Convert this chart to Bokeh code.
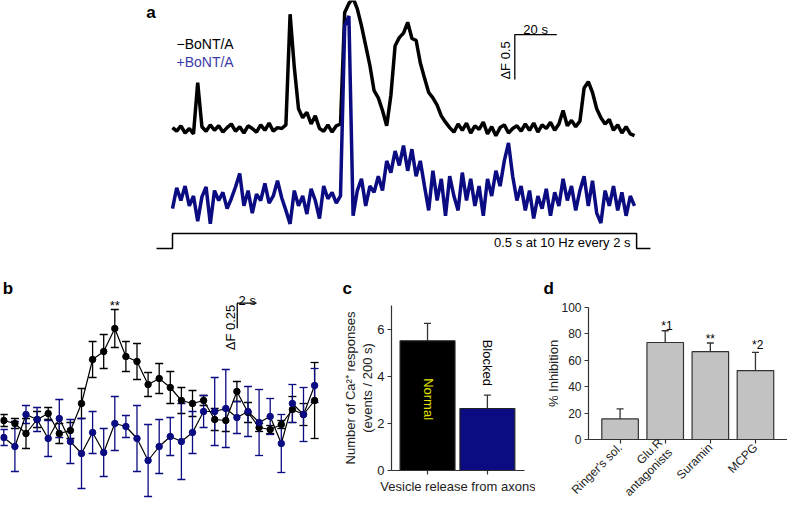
import math
from bokeh.plotting import figure
from bokeh.models import Range1d, Label, Whisker, TeeHead, ColumnDataSource, FixedTicker
from bokeh.embed import file_html
from bokeh.resources import INLINE

FONT = "Liberation Sans"
NAVY = "#0b0b82"
LEGEND_BLUE = "#3c3ca8"
AXIS_COL = "#333333"

# ---------------- Panel a : example traces (dF), one sample every 2 s ----------------
a_time = [2 * i for i in range(111)]
a_black = [0.01, -0.03, 0.03, -0.05, 0.00, -0.06, 0.51, 0.02, -0.03, 0.04,
           -0.02, 0.03, -0.04, 0.01, 0.05, -0.03, 0.02, -0.05, 0.03, 0.00,
           -0.04, 0.04, -0.02, 0.06, -0.03, 0.01, 0.00, 0.04, 1.27, 0.68,
           0.22, 0.12, 0.18, 0.05, 0.14, 0.00, -0.03, 0.04, -0.04, 0.03,
           0.05, 1.29, 1.39, 1.45, 1.33, 1.14, 0.92, 0.70, 0.42, 0.34,
           0.20, 0.03, 0.37, 0.92, 1.01, 1.06, 1.18, 1.00, 0.98, 0.73,
           0.56, 0.40, 0.34, 0.26, 0.14, 0.07, 0.01, -0.04, 0.05, -0.02,
           0.06, -0.05, 0.03, -0.01, 0.07, -0.06, 0.02, -0.08, 0.01, 0.04,
           -0.05, 0.00, 0.03, -0.03, 0.05, -0.02, 0.06, -0.04, 0.04, 0.00,
           0.07, -0.02, 0.05, 0.20, 0.03, 0.09, 0.02, 0.08, 0.45, 0.52,
           0.40, 0.22, 0.12, 0.05, 0.10, -0.02, 0.04, -0.05, 0.02, -0.06,
           -0.08]
a_blue = [-0.12, 0.11, -0.03, 0.13, -0.09, 0.02, -0.26, 0.01, 0.12, -0.29,
          0.08, -0.03, 0.06, -0.12, -0.01, 0.12, 0.27, -0.09, 0.08, -0.17,
          0.04, -0.03, 0.16, -0.06, 0.02, 0.19, 0.00, -0.14, -0.29, 0.08,
          -0.09, 0.02, -0.18, 0.10, -0.03, -0.23, 0.13, -0.01, 0.06, -0.06,
          0.02, 1.91, 2.02, -0.20, 0.08, 0.21, -0.09, 0.13, 0.06, 0.24,
          0.08, 0.41, 0.28, 0.52, 0.36, 0.58, 0.30, 0.54, 0.24, 0.41,
          0.13, -0.14, 0.30, -0.03, 0.21, -0.20, 0.24, 0.02, -0.14, 0.28,
          -0.03, 0.21, -0.09, 0.13, -0.20, 0.21, 0.02, 0.30, 0.13, 0.41,
          0.61, 0.24, -0.03, 0.13, -0.14, 0.08, -0.23, 0.02, -0.12, 0.10,
          -0.20, 0.06, -0.09, 0.21, -0.03, 0.13, -0.14, 0.08, 0.24, -0.09,
          0.19, -0.17, -0.28, 0.08, -0.09, 0.13, -0.14, 0.06, -0.20, 0.02,
          -0.09]
stim_time = [-7.6, 0, 0, 221, 221, 227.6]
stim_on = [0, 0, 1, 1, 0, 0]
a_legend = ["\u2212BoNT/A", "+BoNT/A"]
a_stim_text = "0.5 s at 10 Hz every 2 s"

# ---------------- Panel b : mean responses (dF) per frame ----------------
b_frame = list(range(1, 30))
b_black = [0.10, 0.07, -0.03, 0.11, 0.17, -0.03, 0.00, 0.27, 0.71, 0.79,
           1.02, 0.74, 0.69, 0.46, 0.52, 0.43, 0.30, 0.27, 0.30, 0.11,
           0.10, 0.39, 0.18, 0.03, 0.01, 0.06, 0.21, 0.16, 0.30]
b_black_err = [0.06, 0.05, 0.15, 0.08, 0.06, 0.10, 0.08, 0.15, 0.18, 0.17,
               0.19, 0.15, 0.18, 0.12, 0.15, 0.16, 0.13, 0.13, 0.05, 0.11,
               0.11, 0.10, 0.10, 0.04, 0.04, 0.04, 0.13, 0.11, 0.38]
b_blue = [-0.07, -0.16, 0.16, 0.11, -0.08, 0.12, -0.11, -0.23, -0.02, -0.22,
          0.07, 0.04, -0.08, -0.30, -0.16, -0.06, -0.11, -0.02, 0.19, 0.19,
          0.22, 0.13, 0.19, 0.08, 0.14, -0.13, 0.27, 0.16, 0.45]
b_blue_err = [0.08, 0.25, 0.09, 0.12, 0.18, 0.19, 0.22, 0.35, 0.21, 0.24,
              0.27, 0.11, 0.33, 0.36, 0.27, 0.19, 0.38, 0.21, 0.16, 0.34,
              0.39, 0.16, 0.25, 0.33, 0.18, 0.29, 0.19, 0.27, 0.17]

# ---------------- Panel c ----------------
c_cats = ["Normal", "Blocked"]
c_vals = [5.5, 2.63]
c_err = [0.74, 0.57]
c_ticks = [0, 2, 4, 6]

# ---------------- Panel d ----------------
d_cats = ["Ringer's sol.", "Glu.R\nantagonists", "Suramin", "MCPG"]
d_vals = [15.6, 73.5, 66.5, 52.2]
d_err = [7.6, 8.9, 6.6, 13.8]
d_sig = ["", "*1", "**", "*2"]
d_ticks = [0, 20, 40, 60, 80, 100]


def lab(p, x, y, text, size=13, color="black", angle=0.0, align="left",
        baseline="bottom", bold=False):
    p.add_layout(Label(x=x, y=y, text=text, text_font=FONT,
                       text_font_size=f"{size}px", text_color=color,
                       angle=angle, text_align=align, text_baseline=baseline,
                       text_font_style="bold" if bold else "normal"))


def bare(p):
    p.grid.visible = False
    p.outline_line_color = None
    p.background_fill_color = None
    p.border_fill_color = None


def place(p, left, top):
    p.styles = {"position": "absolute", "left": f"{left}px", "top": f"{top}px"}


# ================= Figure a =================
pa = figure(width=788, height=253, x_range=Range1d(-81.905, 293.333),
            y_range=Range1d(-1.389, 1.4222), output_backend="svg",
            toolbar_location=None, min_border=0,
            x_axis_location=None, y_axis_location=None)
bare(pa)
place(pa, 0, 0)
BLUE_OFFSET = -0.77
STIM_LOW, STIM_STEP = -1.333, 0.166
pa.line(a_time, a_black, line_width=3.5, color="black")
pa.line(a_time, [v + BLUE_OFFSET for v in a_blue], line_width=3.5, color=NAVY)
pa.line(stim_time, [STIM_LOW + s * STIM_STEP for s in stim_on],
        line_width=1.5, color="black")
SB_T, SB_V = 163.0, 1.044
pa.line([SB_T, SB_T, SB_T + 20], [SB_V - 0.5, SB_V, SB_V], line_width=1.3, color="black")
lab(pa, 172.9, 1.097, "20 s", align="center", baseline="alphabetic")
lab(pa, 158.7, 0.756, "\u0394F 0.5", angle=math.pi / 2, align="center", baseline="middle")
lab(pa, 1.9, 0.941, a_legend[0], size=14, baseline="middle")
lab(pa, 1.9, 0.744, a_legend[1], size=14, color=LEGEND_BLUE, baseline="middle")
lab(pa, 218.1, -1.267, a_stim_text, align="right", baseline="middle")
lab(pa, -10.24, 1.289, "a", size=17, align="center", baseline="middle", bold=True)

# ================= Figure b =================
pb = figure(width=335, height=259, x_range=Range1d(0.7027, 30.883),
            y_range=Range1d(-0.82, 1.77), output_backend="svg",
            toolbar_location=None, min_border=0,
            x_axis_location=None, y_axis_location=None)
bare(pb)
place(pb, 0, 253)
src_bk = ColumnDataSource(dict(x=b_frame,
                               lo=[v - e for v, e in zip(b_black, b_black_err)],
                               hi=[v + e for v, e in zip(b_black, b_black_err)]))
src_bl = ColumnDataSource(dict(x=b_frame,
                               lo=[v - e for v, e in zip(b_blue, b_blue_err)],
                               hi=[v + e for v, e in zip(b_blue, b_blue_err)]))
for src, col in ((src_bk, "black"), (src_bl, NAVY)):
    pb.add_layout(Whisker(base="x", upper="hi", lower="lo", source=src,
                          line_color=col, line_width=1.3,
                          upper_head=TeeHead(size=8, line_color=col, line_width=1.3),
                          lower_head=TeeHead(size=8, line_color=col, line_width=1.3)))
pb.line(b_frame, b_black, color="black", line_width=1.2)
pb.line(b_frame, b_blue, color="black", line_width=1.2)
pb.scatter(b_frame, b_black, size=6.5, fill_color="black", line_color="black")
pb.scatter(b_frame, b_blue, size=6.5, fill_color=NAVY, line_color=NAVY)
SBB_X, SBB_V = 22.03, 1.273
pb.line([SBB_X, SBB_X, SBB_X + 1.74], [SBB_V - 0.25, SBB_V, SBB_V], line_width=1.3, color="black")
lab(pb, 22.93, 1.30, "2 s", align="center", baseline="alphabetic")
lab(pb, 21.42, 1.03, "\u0394F 0.25", angle=math.pi / 2, align="center", baseline="middle")
lab(pb, 11.0, 1.255, "**", size=13, align="center", baseline="alphabetic")
lab(pb, 0.90, 1.425, "b", size=17, baseline="middle", bold=True)


def style_axes(p, size):
    for ax in (p.xaxis[0], p.yaxis[0]):
        ax.axis_line_color = AXIS_COL
        ax.axis_line_width = 1.2
        ax.major_tick_line_color = AXIS_COL
        ax.major_tick_line_width = 1.2
        ax.major_tick_out = 4
        ax.major_tick_in = 0
        ax.minor_tick_line_color = None
        ax.major_label_text_font = FONT
        ax.major_label_text_font_size = f"{size}px"
        ax.major_label_text_color = "#222222"
        ax.major_label_standoff = 3
        ax.axis_label_text_font = FONT
        ax.axis_label_text_font_style = "normal"
        ax.axis_label_text_color = "#222222"
        ax.axis_label_text_font_size = "13px"


def style_title(p, offset, standoff):
    p.title.align = "left"
    p.title.offset = offset
    p.title.standoff = standoff
    p.title.text_font = FONT
    p.title.text_font_size = "17px"
    p.title.text_font_style = "bold"
    p.title.text_color = "black"


# ================= Figure c =================
pc = figure(width=200, height=259, x_range=Range1d(0.398, 2.62), title="c",
            y_range=Range1d(0, 7), output_backend="svg", toolbar_location=None,
            min_border_left=56, min_border_right=11, min_border_top=52,
            min_border_bottom=42)
bare(pc)
place(pc, 335, 253)
style_axes(pc, 13)
style_title(pc, -49, 16)
pc.xaxis.ticker = FixedTicker(ticks=[], minor_ticks=[1, 2])
pc.xaxis.minor_tick_line_color = AXIS_COL
pc.xaxis.minor_tick_line_width = 1.2
pc.xaxis.minor_tick_out = 4
pc.xaxis.minor_tick_in = 0
pc.xaxis.axis_label = "Vesicle release from axons"
pc.xaxis.axis_label_standoff = 4
pc.yaxis.ticker = FixedTicker(ticks=c_ticks)
pc.yaxis.axis_label = "Number of Ca\u00b2\u207a responses\n(events / 200 s)"
pc.yaxis.axis_label_standoff = -1
pc.yaxis.axis_label_text_line_height = 1.15
c_x = [1, 2]
src_c = ColumnDataSource(dict(x=c_x, top=c_vals, hi=[v + e for v, e in zip(c_vals, c_err)],
                              color=["black", NAVY]))
pc.add_layout(Whisker(base="x", upper="hi", lower="top", source=src_c,
                      line_color=AXIS_COL, line_width=1.3,
                      upper_head=TeeHead(size=7, line_color=AXIS_COL, line_width=1.3),
                      lower_head=None))
pc.vbar(x="x", top="top", width=0.917, fill_color="color", line_color="#222222",
        line_width=1.2, source=src_c)
lab(pc, 1.01, 3.03, c_cats[0], color="#e6e600", angle=-math.pi / 2, align="center", baseline="middle")
lab(pc, 2.007, 4.57, c_cats[1], angle=-math.pi / 2, align="center", baseline="middle")

# ================= Figure d =================
pd = figure(width=252, height=259, x_range=Range1d(0.300, 4.71), title="d",
            y_range=Range1d(0, 100), output_backend="svg", toolbar_location=None,
            min_border_left=53, min_border_right=0, min_border_top=54,
            min_border_bottom=73)
bare(pd)
place(pd, 535, 253)
style_axes(pd, 12)
style_title(pd, -45, 20)
d_x = [1, 2, 3, 4]
pd.xaxis.ticker = FixedTicker(ticks=d_x)
pd.xaxis.major_label_overrides = {x: name for x, name in zip(d_x, d_cats)}
pd.xaxis.major_label_orientation = math.pi / 4
pd.xaxis.major_label_text_font_size = "12px"
pd.xaxis.major_label_text_line_height = 1.0
pd.xaxis.major_label_standoff = 2
pd.yaxis.ticker = FixedTicker(ticks=d_ticks)
pd.yaxis.axis_label = "% Inhibition"
pd.yaxis.axis_label_standoff = -3
src_d = ColumnDataSource(dict(x=d_x, top=d_vals, hi=[v + e for v, e in zip(d_vals, d_err)]))
pd.add_layout(Whisker(base="x", upper="hi", lower="top", source=src_d,
                      line_color=AXIS_COL, line_width=1.3,
                      upper_head=TeeHead(size=7, line_color=AXIS_COL, line_width=1.3),
                      lower_head=None))
pd.vbar(x="x", top="top", width=0.81, fill_color="#c2c2c2", line_color="#333333",
        line_width=1.2, source=src_d)
sig_pos = [(2.04, 86.2), (3.0, 76.3), (4.05, 71.8)]
for (sx, sy), s in zip(sig_pos, d_sig[1:]):
    lab(pd, sx, sy, s, size=12, align="center", baseline="alphabetic")

open("out.html", "w").write(file_html([pa, pb, pc, pd], INLINE))
